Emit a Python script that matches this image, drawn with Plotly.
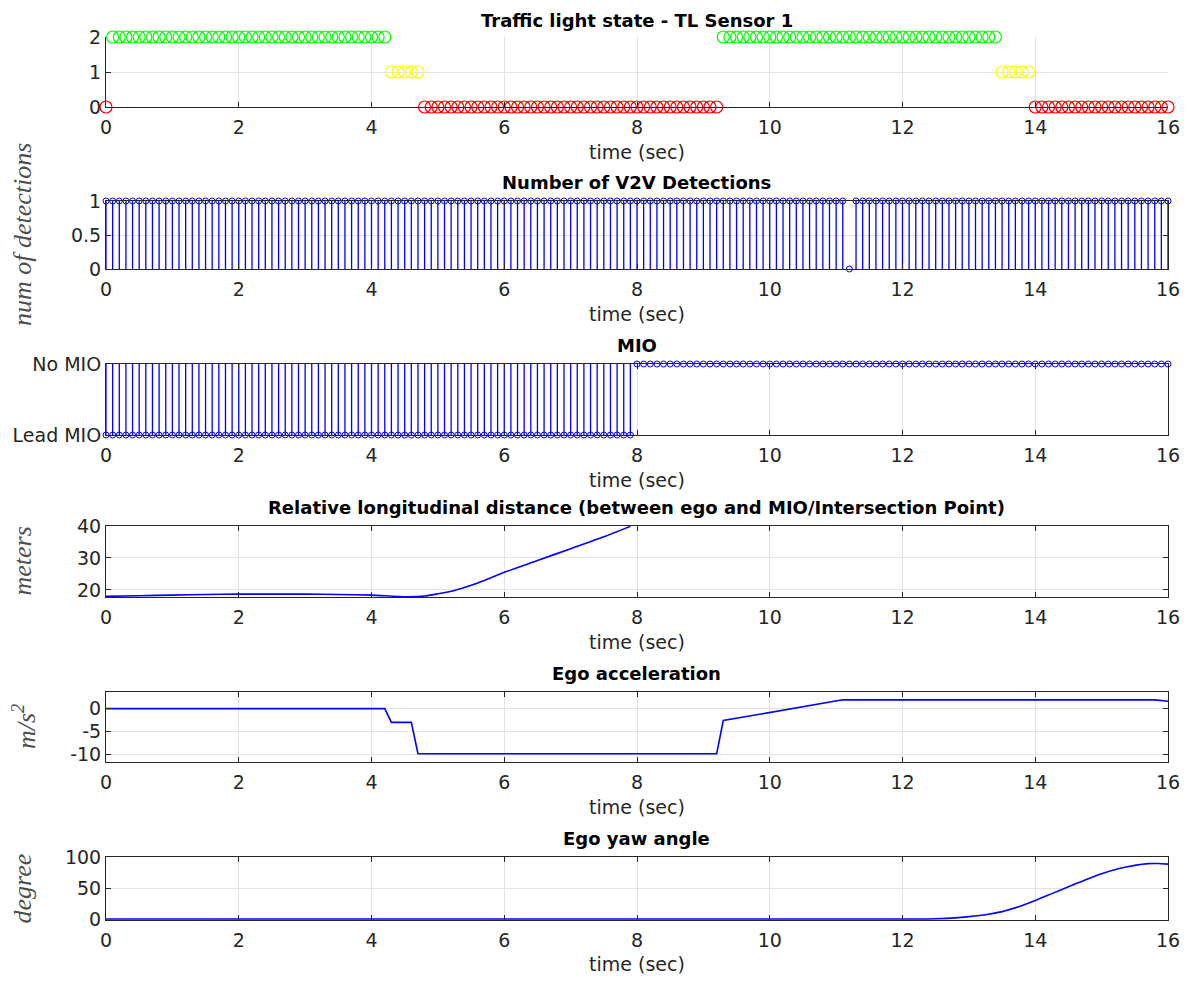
import numpy as np
import plotly.graph_objects as go

# ---------------- data ----------------
time = np.round(np.arange(0, 161) * 0.1, 1)          # sample instants 0.0 .. 16.0 s

# traffic light state (0 red, 1 yellow, 2 green), one value per sample
tl_state = [0] + [2] * 42 + [1] * 5 + [0] * 45 + [2] * 42 + [1] * 5 + [0] * 21
tl_colors = {0: "#ff0000", 1: "#ffff00", 2: "#00ff00"}

# number of V2V detections per sample
v2v_det = [1] * 112 + [0] + [1] * 48

# MIO status per sample (1 = Lead MIO, 0 = No MIO)
mio_state = [1] * 80 + [0] * 81
mio_ticks = [0, 1]
mio_labels = ["No MIO", "Lead MIO"]

# relative longitudinal distance
dist_t = [0, 0.5, 1, 1.5, 2, 2.5, 3, 3.5, 4, 4.5, 4.8, 5.0, 5.2, 5.4, 5.6, 5.8, 6.0,
          6.5, 7.0, 7.5, 7.9]
dist_v = [18.0, 18.2, 18.4, 18.6, 18.7, 18.7, 18.7, 18.6, 18.4, 17.9, 18.1, 18.8, 19.6,
          20.8, 22.2, 23.8, 25.5, 29.2, 32.9, 36.6, 39.9]

# ego acceleration
acc_t = [0, 4.2, 4.3, 4.6, 4.7, 9.2, 9.3, 11.1, 15.8, 16.0]
acc_v = [0, 0, -3.0, -3.0, -9.8, -9.8, -2.6, 1.9, 1.9, 1.6]
acc_ticks = [-10, -5, 0]
acc_labels = ["-10", "-5", "0"]

# ego yaw angle
yaw_t = [0, 12.0, 12.5, 12.8, 13.0, 13.25, 13.5, 13.75, 14.0, 14.25, 14.5, 14.75, 15.0,
         15.25, 15.5, 15.7, 15.85, 16.0]
yaw_v = [0, 0, 0.5, 2, 4, 7, 12, 20, 30, 41, 52, 63, 73, 81, 86.5, 89.3, 89.5, 88.5]

titles = ["Traffic light state - TL Sensor 1", "Number of V2V Detections", "MIO",
          "Relative longitudinal distance (between ego and MIO/Intersection Point)",
          "Ego acceleration", "Ego yaw angle"]
ylabels = [None, "<i>num of detections</i>", None, "<i>meters</i>",
           "<i>m/s<sup>2</sup></i>", "<i>degree</i>"]
ylabel_x = [None, 23, None, 22, 24, 22]

# ---------------- layout geometry (page pixels) ----------------
OFF = 8                       # default page margin around the plot div
W, H = 1188 - 2 * OFF, 983 - 2 * OFF
box_px = [(37, 107), (201, 269), (364, 435), (526, 597), (692, 762), (857, 920)]
x_left, x_right = 106, 1168

def ydom(top, bot):
    return [1 - (bot - OFF) / H, 1 - (top - OFF) / H]

xdom = [(x_left - OFF) / W, (x_right - OFF) / W]

FONT = "DejaVu Sans"
AX = "#262626"
GRID = "#e3e3e3"
BLUE = "#0000ff"
TICK_SIZE = 19

fig = go.Figure()

# --- 1: traffic light state ---
for s in (2, 1, 0):
    xs = [t for t, v in zip(time, tl_state) if v == s]
    ys = [v for v in tl_state if v == s]
    fig.add_trace(go.Scatter(x=xs, y=ys, mode="markers", xaxis="x", yaxis="y",
                             marker=dict(symbol="circle-open", size=12, color=tl_colors[s],
                                         line=dict(width=1.2, color=tl_colors[s])),
                             cliponaxis=False, showlegend=False))

def stem(values, xa, ya):
    sx, sy = [], []
    for t, v in zip(time, values):
        if v != 0:
            sx += [t, t, None]
            sy += [0, v, None]
    fig.add_trace(go.Scatter(x=sx, y=sy, mode="lines", xaxis=xa, yaxis=ya,
                             line=dict(color=BLUE, width=1.3), showlegend=False, hoverinfo="skip"))
    fig.add_trace(go.Scatter(x=time, y=values, mode="markers", xaxis=xa, yaxis=ya,
                             marker=dict(symbol="circle-open", size=6, color=BLUE,
                                         line=dict(width=1, color=BLUE)),
                             cliponaxis=False, showlegend=False))

# --- 2: V2V detections ---
stem(v2v_det, "x2", "y2")
# --- 3: MIO ---
stem(mio_state, "x3", "y3")
# --- 4: distance ---
fig.add_trace(go.Scatter(x=dist_t, y=dist_v, mode="lines", xaxis="x4", yaxis="y4",
                         line=dict(color=BLUE, width=1.6, shape="spline", smoothing=0.6),
                         showlegend=False))
# --- 5: acceleration ---
fig.add_trace(go.Scatter(x=acc_t, y=acc_v, mode="lines", xaxis="x5", yaxis="y5",
                         line=dict(color=BLUE, width=1.6), showlegend=False))
# --- 6: yaw ---
fig.add_trace(go.Scatter(x=yaw_t, y=yaw_v, mode="lines", xaxis="x6", yaxis="y6",
                         line=dict(color=BLUE, width=1.6, shape="spline", smoothing=0.6),
                         showlegend=False))

yranges = [[0, 2], [0, 1], [1, 0], [17.8, 40], [-11.6, 3.6], [-1.5, 100]]
ytickvals = [[0, 1, 2], [0, 0.5, 1], mio_ticks, [20, 30, 40], acc_ticks, [0, 50, 100]]
yticktext = [None, None, mio_labels, None, acc_labels, None]

layout = dict(width=W, height=H, paper_bgcolor="white", plot_bgcolor="white",
              margin=dict(l=0, r=0, t=0, b=0), showlegend=False,
              font=dict(family=FONT, size=TICK_SIZE, color=AX))
annotations = []
for i in range(6):
    k = "" if i == 0 else str(i + 1)
    boxed = i > 0
    top, bot = box_px[i]
    layout["xaxis" + k] = dict(domain=xdom, anchor="y" + k, range=[0, 16], dtick=2,
                               ticks="inside", ticklen=5, tickcolor=AX,
                               showline=True, linecolor=AX, linewidth=1,
                               mirror="ticks" if boxed else False,
                               showgrid=True, gridcolor=GRID, zeroline=False,
                               tickfont=dict(size=TICK_SIZE, color=AX, family=FONT),
                               ticklabelstandoff=3, ticklabeloverflow="allow",
                               title=dict(text="time (sec)", standoff=8,
                                          font=dict(size=TICK_SIZE, color=AX, family=FONT)),
                               automargin=False)
    ya = dict(domain=ydom(top, bot), anchor="x" + k, range=yranges[i],
              tickvals=ytickvals[i], ticks="inside", ticklen=5, tickcolor=AX,
              showline=True, linecolor=AX, linewidth=1,
              mirror="ticks" if boxed else False,
              showgrid=True, gridcolor=GRID, zeroline=False,
              tickfont=dict(size=TICK_SIZE, color=AX, family=FONT), automargin=False)
    if yticktext[i] is not None:
        ya["ticktext"] = yticktext[i]
    layout["yaxis" + k] = ya
    annotations.append(dict(text="<b>" + titles[i] + "</b>", xref="paper", yref="paper",
                            x=(xdom[0] + xdom[1]) / 2, y=1 - (top - OFF) / H, xanchor="center",
                            yanchor="bottom", yshift=6 if i else 4, showarrow=False,
                            font=dict(size=18, color="#000000", family=FONT)))
    if ylabels[i]:
        annotations.append(dict(text=ylabels[i], xref="paper", yref="paper",
                                x=(ylabel_x[i] - OFF) / W, y=1 - ((top + bot) / 2 - OFF) / H,
                                xanchor="center", yanchor="middle", textangle=-90,
                                showarrow=False,
                                font=dict(size=26, color="#4d4d4d", family="Liberation Serif")))
layout["annotations"] = annotations
fig.update_layout(**layout)

fig.write_html("out.html")
